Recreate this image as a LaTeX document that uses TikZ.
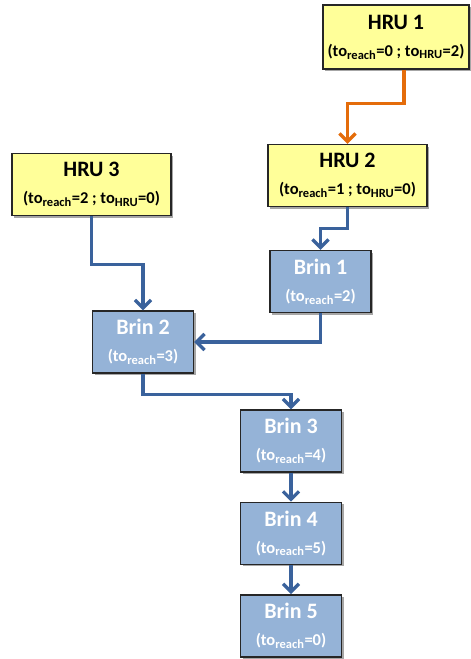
\documentclass[tikz,border=0pt]{standalone}
\usepackage{fontspec}
\setmainfont{Carlito}
\usepackage{tikz}
\usetikzlibrary{positioning,shadows,arrows.meta}
\definecolor{hruyellow}{HTML}{FFFF99}
\definecolor{brinblue}{HTML}{95B3D7}
\definecolor{flowblue}{RGB}{58,98,156}
\definecolor{floworange}{HTML}{E46C0A}
\newcommand*\tosub[1]{to\textsubscript{\fontsize{12.5}{12.5}\selectfont#1}}
\newcommand*\linetwo{\fontsize{16.5}{16.5}\selectfont}
\begin{document}
\begin{tikzpicture}[
        x=1pt, y=-1pt,
        node distance=29pt,
        >={Straight Barb[length=8pt,width=16pt,line width=3.3pt]},
        thick,
        box/.style={draw=black!85, line width=1.4pt, align=center, minimum height=62pt,
            font=\fontsize{22}{27}\selectfont\bfseries, inner sep=2pt,
            drop shadow={shadow xshift=2pt, shadow yshift=-2pt, fill=black!35, opacity=1}},
        hru/.style={box, fill=hruyellow, text=black, minimum width=159pt},
        brin/.style={box, fill=brinblue, text=white, minimum width=101pt},
        flow/.style={->, draw=flowblue, line width=3.3pt},
        hruflow/.style={->, draw=floworange, line width=3.3pt}
    ]
    \useasboundingbox (0,0) rectangle (471,659);
        \node[hru, minimum width=146pt, minimum height=64pt] (hru1) at (396,37) {HRU 1\\{\linetwo(\tosub{reach}=0 ; \tosub{HRU}=2)}};
        \node[hru] (hru2) at (347.5,175.5) {HRU 2\\{\linetwo(\tosub{reach}=1 ; \tosub{HRU}=0)}};
        \node[hru] (hru3) at (91.5,184.5) {HRU 3\\{\linetwo(\tosub{reach}=2 ; \tosub{HRU}=0)}};
        \node[brin] (brin1) at (320.5,281.5) {Brin 1\\{\linetwo(\tosub{reach}=2)}};
        \node[brin] (brin2) at (143,342) {Brin 2\\{\linetwo(\tosub{reach}=3)}};
        \node[brin] (brin3) at (291,441) {Brin 3\\{\linetwo(\tosub{reach}=4)}};
        \node[brin, below=of brin3] (brin4) {Brin 4\\{\linetwo(\tosub{reach}=5)}};
        \node[brin, below=of brin4] (brin5) {Brin 5\\{\linetwo(\tosub{reach}=0)}};

    \draw[hruflow] ([xshift=8pt]hru1.south) -- ++(0,34) -| (hru2.north);
    \draw[flow] (hru3.south) -- ++(0,48) -| (brin2.north);
    \draw[flow] (hru2.south) -- ++(0,21) -| (brin1.north);
    \draw[flow] (brin1.south) |- (brin2.east);
    \draw[flow] (brin2.south) -- ++(0,21) -| (brin3.north);
    \draw[flow] (brin3) -- (brin4);
    \draw[flow] (brin4) -- (brin5);
\end{tikzpicture}
\end{document}
